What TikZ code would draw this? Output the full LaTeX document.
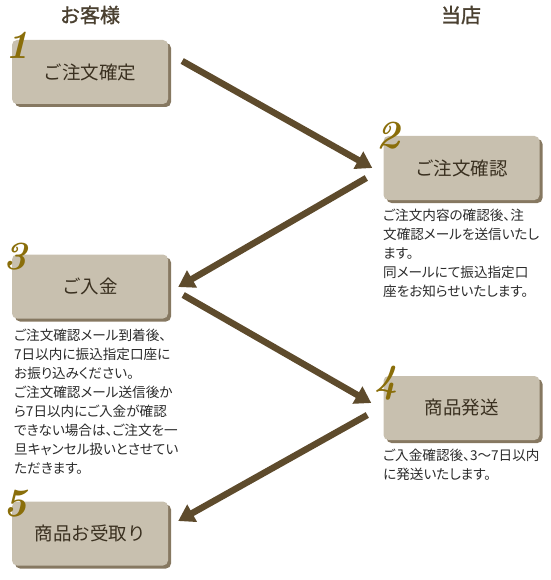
\documentclass[tikz,border=0pt]{standalone}
\usepackage{fontspec}
\newfontfamily\jp{Noto Sans CJK JP}
\newfontfamily\jpp{Noto Sans CJK JP}[RawFeature=+palt]
\newfontfamily\jpb{Noto Sans CJK JP}[FakeBold=1.5]
\usetikzlibrary{arrows.meta,shadows,calc}
\definecolor{boxfill}{HTML}{C8C0AF}
\definecolor{arrowc}{HTML}{5E4B2C}
\definecolor{numc}{HTML}{8A6E0A}
\definecolor{headc}{HTML}{4A4030}
\definecolor{boxtext}{HTML}{3A3020}
\definecolor{desc}{HTML}{2A2A2A}
\begin{document}
\begin{tikzpicture}[x=1pt,y=-1pt,
  stepbox/.style={fill=boxfill, rounded corners=5pt, minimum width=156pt, minimum height=64pt,
    inner sep=0pt, text=boxtext, font=\jp\fontsize{18.5}{20}\selectfont,
    drop shadow={shadow xshift=3pt, shadow yshift=-3pt, fill=arrowc, opacity=0.75}},
  num/.style={text=numc, font=\fontsize{40}{40}\selectfont\bfseries\itshape, inner sep=0pt},
  head/.style={text=headc, font=\jpb\fontsize{20}{22}\selectfont, inner sep=0pt},
  desctext/.style={text=desc, font=\jpp\fontsize{13.6}{19}\selectfont, align=left, anchor=north west, inner sep=0pt},
  arr/.style={draw=arrowc, line width=6.5pt, -{Triangle[width=19pt,length=16pt]}}]
\useasboundingbox (0,0) rectangle (550,580);

\node[head] (h1) at (90,15) {お客様};
\node[head] (h2) at (461,15) {当店};

\node[stepbox] (b1) at (90,72) {ご注文確定};
\node[stepbox] (b2) at (461.5,168) {ご注文確認};
\node[stepbox] (b3) at (90,286.5) {ご入金};
\node[stepbox] (b4) at (461.5,408) {商品発送};
\node[stepbox] (b5) at (90,533.5) {商品お受取り};

\node[num] (n1) at (17,45) {1};
\node[num] (n2) at (388,136) {2};
\node[num] (n3) at (15,257) {3};
\node[num] (n4) at (386,383) {4};
\node[num] (n5) at (15,504) {5};

\node[desctext] (d2) at (383,209) {ご注文内容の確認後、注\\文確認メールを送信いたし\\ます。\\同メールにて振込指定口\\座をお知らせいたします。};
\node[desctext] (d3) at (14,329) {ご注文確認メール到着後、\\7日以内に振込指定口座に\\お振り込みください。\\ご注文確認メール送信後か\\ら7日以内にご入金が確認\\できない場合は、ご注文を一\\旦キャンセル扱いとさせてい\\ただきます。};
\node[desctext] (d4) at (383,449) {ご入金確認後、3〜7日以内\\に発送いたします。};

\draw[arr] ([shift={(14,-11)}]b1.east) -- ([shift={(-11,0)}]b2.west);
\draw[arr] ([shift={(-17,10)}]b2.west) -- ([shift={(10,0.5)}]b3.east);
\draw[arr] ([shift={(15,8.5)}]b3.east) -- ([shift={(-12,-5)}]b4.west);
\draw[arr] ([shift={(-16,7)}]b4.west) -- ([shift={(10,-12.5)}]b5.east);
\end{tikzpicture}
\end{document}
